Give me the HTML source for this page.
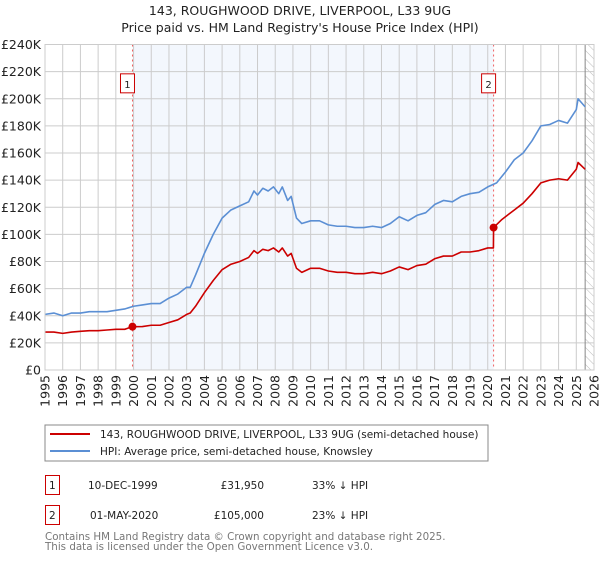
<!DOCTYPE html>
<html><head><meta charset="utf-8"><style>
body{margin:0;background:#fff;font-family:"Liberation Sans","DejaVu Sans",sans-serif}
</style></head><body>
<svg width="600" height="560" xmlns="http://www.w3.org/2000/svg" font-family="DejaVu Sans, Liberation Sans, sans-serif">
<defs><pattern id="hatch" width="6" height="6" patternUnits="userSpaceOnUse" patternTransform="rotate(-45)"><line x1="0" y1="0" x2="0" y2="6" stroke="#bbb" stroke-width="1"/></pattern></defs>
<text x="300" y="15" text-anchor="middle" font-size="12.5" fill="#222">143, ROUGHWOOD DRIVE, LIVERPOOL, L33 9UG</text>
<text x="300" y="32" text-anchor="middle" font-size="12.5" fill="#222">Price paid vs. HM Land Registry's House Price Index (HPI)</text>
<g id="plot"></g>
<rect x="45" y="425" width="443" height="36" fill="#fff" stroke="#888"/>
<line x1="50" y1="434" x2="90" y2="434" stroke="#cc0000" stroke-width="2"/>
<text x="100" y="438" font-size="10.5" fill="#222">143, ROUGHWOOD DRIVE, LIVERPOOL, L33 9UG (semi-detached house)</text>
<line x1="50" y1="451" x2="90" y2="451" stroke="#5b8fd4" stroke-width="2"/>
<text x="100" y="455" font-size="10.5" fill="#222">HPI: Average price, semi-detached house, Knowsley</text>
<g font-size="10.5" fill="#222">
<rect x="45.5" y="475.5" width="14" height="19" fill="none" stroke="#cc0000"/>
<text x="49" y="489">1</text>
<text x="88" y="489">10-DEC-1999</text>
<text x="264" y="489" text-anchor="end">£31,950</text>
<text x="312" y="489">33% ↓ HPI</text>
<rect x="45.5" y="505.5" width="14" height="19" fill="none" stroke="#cc0000"/>
<text x="49" y="519">2</text>
<text x="90" y="519">01-MAY-2020</text>
<text x="264" y="519" text-anchor="end">£105,000</text>
<text x="312" y="519">23% ↓ HPI</text>
</g>
<text x="45" y="540" font-size="10.3" fill="#777">Contains HM Land Registry data © Crown copyright and database right 2025.</text>
<text x="45" y="550" font-size="10.3" fill="#777">This data is licensed under the Open Government Licence v3.0.</text>
</svg>
<script>
const hpiX=[1995,1995.5,1996,1996.5,1997,1997.5,1998,1998.5,1999,1999.5,2000,2000.5,2001,2001.5,2002,2002.5,2003,2003.2,2003.5,2004,2004.5,2005,2005.5,2006,2006.5,2006.8,2007,2007.3,2007.6,2007.9,2008.2,2008.4,2008.7,2008.9,2009.2,2009.5,2010,2010.5,2011,2011.5,2012,2012.5,2013,2013.5,2014,2014.5,2015,2015.5,2016,2016.5,2017,2017.5,2018,2018.5,2019,2019.5,2020,2020.5,2021,2021.5,2022,2022.5,2023,2023.5,2024,2024.5,2025,2025.1,2025.5];
const hpiY=[41,42,40,42,42,43,43,43,44,45,47,48,49,49,53,56,61,61,70,86,100,112,118,121,124,132,129,134,132,135,130,135,125,128,112,108,110,110,107,106,106,105,105,106,105,108,113,110,114,116,122,125,124,128,130,131,135,138,146,155,160,169,180,181,184,182,192,200,194];
const priceX=[1995,1995.5,1996,1996.5,1997,1997.5,1998,1998.5,1999,1999.5,1999.94,2000.5,2001,2001.5,2002,2002.5,2003,2003.2,2003.5,2004,2004.5,2005,2005.5,2006,2006.5,2006.8,2007,2007.3,2007.6,2007.9,2008.2,2008.4,2008.7,2008.9,2009.2,2009.5,2010,2010.5,2011,2011.5,2012,2012.5,2013,2013.5,2014,2014.5,2015,2015.5,2016,2016.5,2017,2017.5,2018,2018.5,2019,2019.5,2020,2020.32,2020.33,2020.8,2021.5,2022,2022.5,2023,2023.5,2024,2024.5,2025,2025.1,2025.5];
const priceY=[28,28,27,28,28.5,29,29,29.5,30,30,31.95,32,33,33,35,37,41,42,47,57,66,74,78,80,83,88,86,89,88,90,87,90,84,86,75,72,75,75,73,72,72,71,71,72,71,73,76,74,77,78,82,84,84,87,87,88,90,90,105,111,118,123,130,138,140,141,140,148,153,148];
const sales=[[1999.94,31.95,"1"],[2020.33,105,"2"]];
const yTicks=[0,20,40,60,80,100,120,140,160,180,200,220,240];
const xTicks=[1995,1996,1997,1998,1999,2000,2001,2002,2003,2004,2005,2006,2007,2008,2009,2010,2011,2012,2013,2014,2015,2016,2017,2018,2019,2020,2021,2022,2023,2024,2025,2026];
const L=45,R=594,T=44.5,B=370;
const sx=v=>L+(v-1995)/(2026-1995)*(R-L);
const sy=v=>B-v/240*(B-T);
const NS="http://www.w3.org/2000/svg";
const g=document.getElementById('plot');
function mk(t,a){const e=document.createElementNS(NS,t);for(const k in a)e.setAttribute(k,a[k]);g.appendChild(e);return e;}
let e=mk('rect',{x:sx(sales[0][0]),y:T,width:sx(sales[1][0])-sx(sales[0][0]),height:B-T,fill:'#eef3fc',opacity:0.7});


e=mk('rect',{x:sx(2025.5),y:T,width:R-sx(2025.5),height:B-T,fill:'url(#hatch)'});


yTicks.forEach(v=>{
 let l=mk('line',{x1:L,x2:R,y1:sy(v),y2:sy(v),stroke:'#ccc','stroke-width':1});
 
 
 let t=mk('text',{x:L-4,y:sy(v)+4.5,'text-anchor':'end','font-size':12.5,fill:'#222'});
 t.textContent='£'+v+(v?'K':'');
 
 
});
xTicks.forEach(v=>{
 let l=mk('line',{x1:sx(v),x2:sx(v),y1:T,y2:B,stroke:'#ccc','stroke-width':1});
 
 
 let t=mk('text',{transform:`translate(${sx(v)+4.5},${B+5}) rotate(-90)`,'text-anchor':'end','font-size':12.5,fill:'#222'});
 t.textContent=v;
 
 
});
e=mk('line',{x1:sx(2025.5),x2:sx(2025.5),y1:T,y2:B,stroke:'#888'});


sales.forEach(s=>{
 let l=mk('line',{x1:sx(s[0]),x2:sx(s[0]),y1:T,y2:B,stroke:'#f06060','stroke-dasharray':'2,3'});
 
 
 let r=mk('rect',{x:sx(s[0])-12,y:sy(211)-10,width:14,height:19,fill:'#fff',stroke:'#cc0000'});
 
 
 let t=mk('text',{x:sx(s[0])-5,y:sy(211)+4,'text-anchor':'middle','font-size':10,fill:'#222'});
 t.textContent=s[2];
 
 
});
function line(xs,ys,c){return mk('polyline',{points:xs.map((x,i)=>sx(x)+','+sy(ys[i])).join(' '),fill:'none',stroke:c,'stroke-width':1.6,'stroke-linejoin':'round'});}
e=line(hpiX,hpiY,'#5b8fd4');


e=line(priceX,priceY,'#cc0000');


sales.forEach(s=>{
 let c=mk('circle',{cx:sx(s[0]),cy:sy(s[1]),r:4,fill:'#cc0000'});
 
 
});
e=mk('rect',{x:L,y:T,width:R-L,height:B-T,fill:'none',stroke:'#ccc'});


</script>
</body></html>
